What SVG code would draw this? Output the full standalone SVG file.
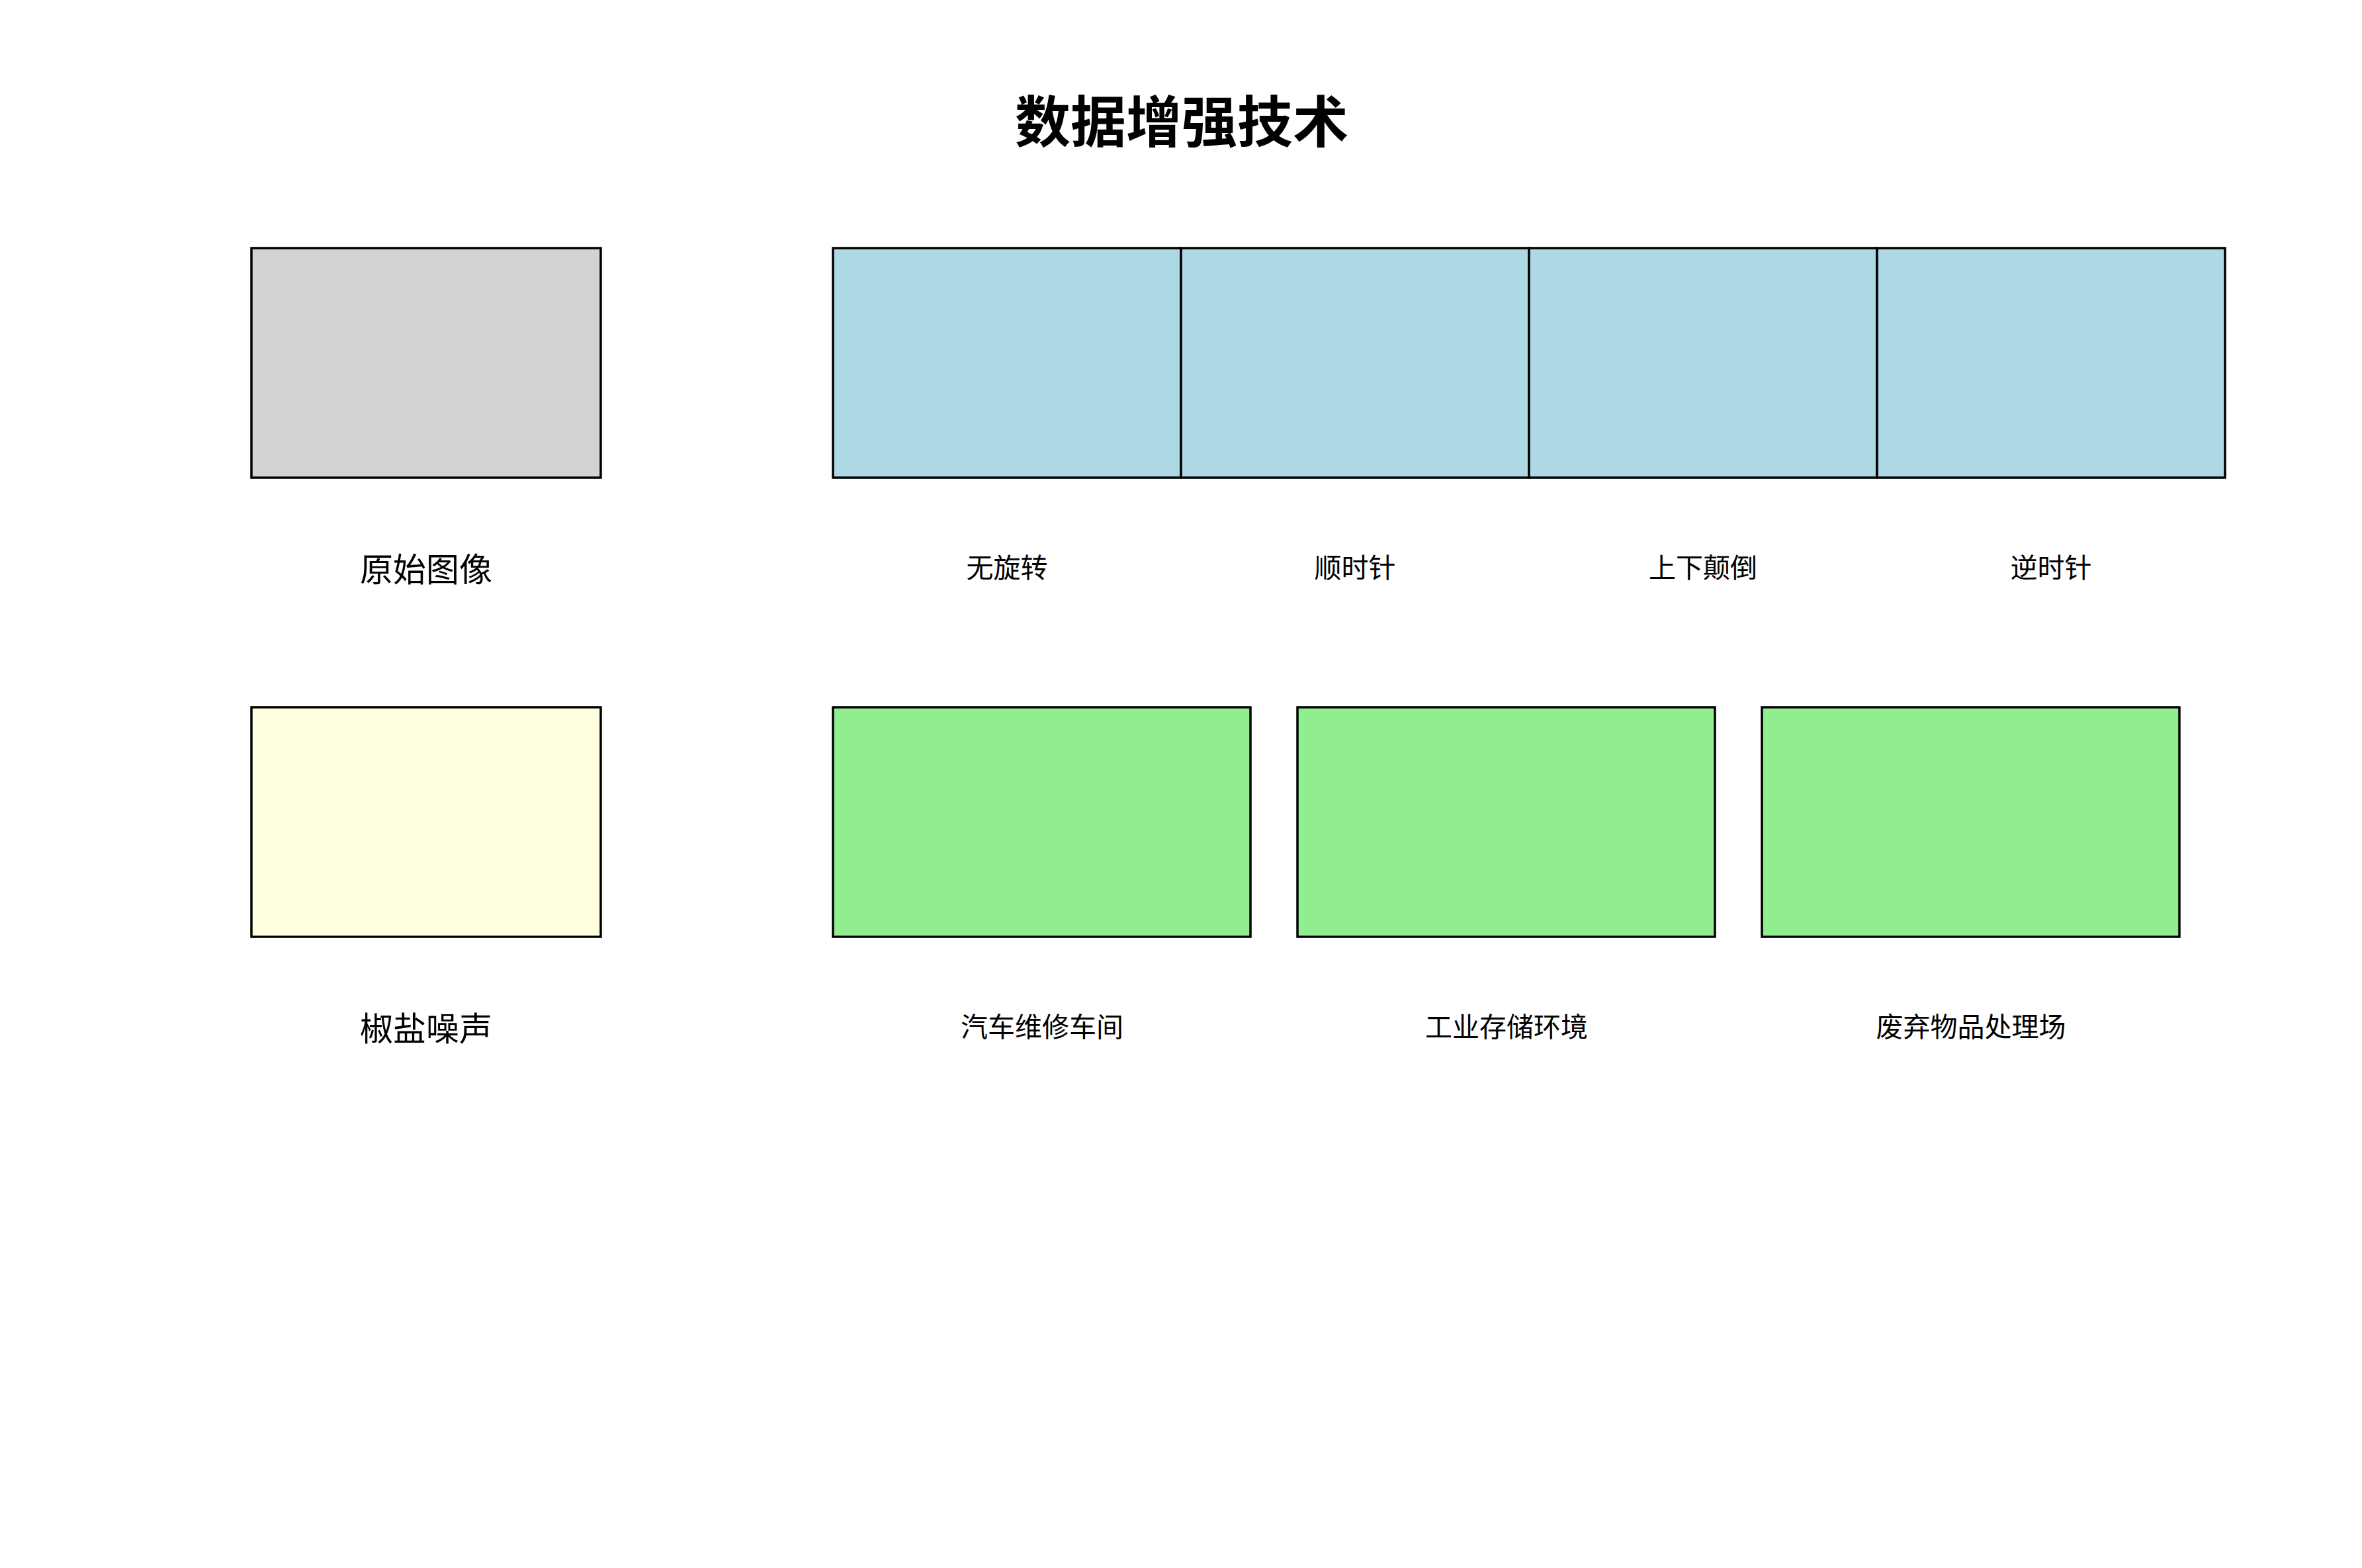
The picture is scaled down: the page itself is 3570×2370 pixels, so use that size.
<svg xmlns="http://www.w3.org/2000/svg" width="3570" height="2370" viewBox="0 0 3570 2370">
<style>
.box{stroke:#000;stroke-width:3.5}
.gray{fill:#d3d3d3}
.blue{fill:#add8e6}
.yellow{fill:#ffffe0}
.green{fill:#90ee90}
text{font-family:"Noto Sans CJK SC","Noto Sans",sans-serif;fill:#000;text-anchor:middle}
.title{font-size:84px;font-weight:bold}
.big{font-size:50px}
.small{font-size:41px}
</style>
<rect width="3570" height="2370" fill="#fff"/>
<text class="title" x="1786" y="215">数据增强技术</text>
<g id="original"><rect class="box gray" x="380" y="375" width="528" height="347"/><text class="big" x="644" y="879">原始图像</text></g>
<g id="rot0"><rect class="box blue" x="1259" y="375" width="526" height="347"/><text class="small" x="1522" y="873">无旋转</text></g>
<g id="rot90"><rect class="box blue" x="1785" y="375" width="526" height="347"/><text class="small" x="2048" y="873">顺时针</text></g>
<g id="rot180"><rect class="box blue" x="2311" y="375" width="526" height="347"/><text class="small" x="2574" y="873">上下颠倒</text></g>
<g id="rot270"><rect class="box blue" x="2837" y="375" width="526" height="347"/><text class="small" x="3100" y="873">逆时针</text></g>
<g id="noise"><rect class="box yellow" x="380" y="1069" width="528" height="347"/><text class="big" x="644" y="1573">椒盐噪声</text></g>
<g id="bg1"><rect class="box green" x="1259" y="1069" width="631" height="347"/><text class="small" x="1575" y="1567">汽车维修车间</text></g>
<g id="bg2"><rect class="box green" x="1961" y="1069" width="631" height="347"/><text class="small" x="2277" y="1567">工业存储环境</text></g>
<g id="bg3"><rect class="box green" x="2663" y="1069" width="631" height="347"/><text class="small" x="2979" y="1567">废弃物品处理场</text></g>
<g id="connectors"></g>
</svg>
